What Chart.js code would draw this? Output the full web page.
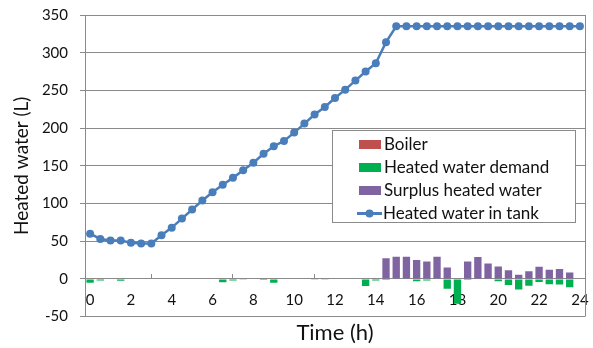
<!DOCTYPE html>
<html>
<head>
<meta charset="utf-8">
<script src="https://cdn.jsdelivr.net/npm/chart.js@4.4.1/dist/chart.umd.min.js"></script>
<style>
    body { margin: 0; background: #fff; }
    #wrap { position: relative; width: 593px; height: 348px; }
    #legendBox {
        position: absolute; left: 332px; top: 130px; width: 242px; height: 91px;
        border: 1px solid #8a8a8a; background: #fff;
        font-family: Lato, sans-serif; font-size: 17px; color: #111;
        box-sizing: content-box;
    }
    .item { position: absolute; left: 26px; height: 23px; line-height: 23px; white-space: nowrap; }
    .swatch { display: inline-block; width: 22px; height: 9px; vertical-align: middle; margin-right: 3px; position: relative; top: -1px; }
    .lineSwatch { display: inline-block; width: 25px; height: 9px; vertical-align: middle; margin-right: 1px; position: relative; top: -1px; }
</style>
</head>
<body>
<div id="wrap">
    <canvas id="waterChart" width="593" height="348"></canvas>
    <div id="legendBox"></div>
</div>
<script>
// time of day (h), one category every half hour
const times = [0, 0.5, 1, 1.5, 2, 2.5, 3, 3.5, 4, 4.5, 5, 5.5, 6, 6.5, 7, 7.5, 8, 8.5, 9, 9.5,
    10, 10.5, 11, 11.5, 12, 12.5, 13, 13.5, 14, 14.5, 15, 15.5, 16, 16.5, 17, 17.5, 18, 18.5, 19, 19.5,
    20, 20.5, 21, 21.5, 22, 22.5, 23, 23.5, 24];
const xTickLabels = [0, 2, 4, 6, 8, 10, 12, 14, 16, 18, 20, 22, 24];

const boiler = [0, 0, 0, 0, 0, 0, 0, 0, 0, 0, 0, 0, 0, 0, 0, 0, 0, 0, 0, 0,
    0, 0, 0, 0, 0, 0, 0, 0, 0, 0, 0, 0, 0, 0, 0, 0, 0, 0, 0, 0,
    0, 0, 0, 0, 0, 0, 0, 0, 0];
const demand = [-5, -2, 0, -2.5, 0, 0, 0, 0, 0, 0, 0, 0, 0, -4.5, -2, -1, 0, -1.5, -5, 0,
    0, 0, -1, -1, 0, 0, 0, -9.5, -2, -1.5, 0, 0, -3, -2, 0, -13, -33, -1.5, 0, 0,
    -3, -8, -14, -9, -4, -7, -7.5, -11, 0];
const surplus = [0, 0, 0, 0, 0, 0, 0, 0, 0, 0, 0, 0, 0, 0, 0, 0, 0, 0, 0, 0,
    0, 0, 0, 0, 0, 0, 0, 0, 0, 27.5, 29.5, 29.5, 25, 23, 29.5, 15, 0, 23, 29, 20.5,
    16.5, 11.5, 5.5, 10, 16, 12, 13, 8.5, 0];
const tank = [60, 53, 51, 51, 48, 47, 47, 58, 68, 80, 92, 104, 115, 125, 134, 144, 154, 166, 176, 183,
    194, 206, 218, 228, 240, 251, 263, 275, 286, 314, 335, 335, 335, 335, 335, 335, 335, 335, 335, 335,
    335, 335, 335, 335, 335, 335, 335, 335, 335];

const FONT = 'Lato, sans-serif';
const gridColor = '#8a8a8a';

// box line on the right side of the plot
const plotFrame = {
    id: 'plotFrame',
    afterDraw(chart) {
        const { ctx, chartArea } = chart;
        ctx.save();
        ctx.strokeStyle = gridColor;
        ctx.lineWidth = 1;
        ctx.beginPath();
        ctx.moveTo(Math.round(chartArea.right) + 0.5, chartArea.top);
        ctx.lineTo(Math.round(chartArea.right) + 0.5, chartArea.bottom);
        ctx.stroke();
        ctx.restore();
    }
};

// no automatic label padding, the plot box is set by layout.padding
function noPadding(s) {
    s.paddingTop = 0; s.paddingBottom = 0; s.paddingLeft = 0; s.paddingRight = 0;
}

const barOpts = { grouped: false, barPercentage: 0.72, categoryPercentage: 1, borderWidth: 0, order: 1 };

const ctx = document.getElementById('waterChart').getContext('2d');
const waterChart = new Chart(ctx, {
    type: 'bar',
    data: {
        labels: times,
        datasets: [
            { label: 'Boiler', data: boiler, backgroundColor: '#C0504D', ...barOpts },
            { label: 'Heated water demand', data: demand, backgroundColor: '#00B050', ...barOpts },
            { label: 'Surplus heated water', data: surplus, backgroundColor: '#8064A2', ...barOpts },
            {
                type: 'line', label: 'Heated water in tank', data: tank,
                borderColor: '#4A7EBB', backgroundColor: '#4A7EBB', borderWidth: 2.5,
                pointRadius: 4, pointBorderWidth: 0, tension: 0, order: 0
            }
        ]
    },
    options: {
        responsive: false,
        animation: false,
        layout: { autoPadding: false, padding: { top: 15, right: 8, left: 0, bottom: 0 } },
        plugins: {
            legend: { display: false },
            tooltip: { enabled: false },
            title: {
                display: true, position: 'bottom', fullSize: false, text: 'Time (h)',
                color: '#111', font: { family: FONT, size: 22, weight: 'normal' },
                padding: { top: 3, bottom: 2 }
            }
        },
        scales: {
            x: {
                position: { y: 0 },
                offset: true,
                afterFit: noPadding,
                grid: {
                    offset: true, drawOnChartArea: false, tickLength: -5,
                    color: c => (c.index > 0 && c.index % 2 === 0) ? gridColor : 'rgba(0,0,0,0)'
                },
                border: { display: true, color: gridColor },
                ticks: {
                    autoSkip: false, maxRotation: 0, padding: 17, color: '#111',
                    font: { family: FONT, size: 15 },
                    callback: (v, i) => xTickLabels.includes(times[i]) ? String(times[i]) : null
                }
            },
            y: {
                min: -50, max: 350,
                afterFit: s => { s.width = 85; noPadding(s); },
                grid: { color: gridColor, tickLength: 5 },
                border: { color: gridColor },
                ticks: { stepSize: 50, padding: 12, color: '#111', font: { family: FONT, size: 15 } },
                title: {
                    display: true, text: 'Heated water (L)', color: '#111',
                    font: { family: FONT, size: 19 }, padding: { top: 10, bottom: 2 }
                }
            }
        }
    },
    plugins: [plotFrame]
});

// legend drawn as html on top of the plot
const legendBox = document.getElementById('legendBox');
waterChart.data.datasets.forEach((ds, i) => {
    const item = document.createElement('div');
    item.className = 'item';
    item.style.top = (1 + i * 23) + 'px';
    if (ds.type === 'line') {
        item.style.left = '24px';
        item.innerHTML = `<svg class="lineSwatch" viewBox="0 0 25 9"><line x1="0" y1="4.5" x2="25" y2="4.5" stroke="${ds.borderColor}" stroke-width="3"/><circle cx="12.5" cy="4.5" r="4" fill="${ds.borderColor}"/></svg>${ds.label}`;
    } else {
        item.innerHTML = `<span class="swatch" style="background:${ds.backgroundColor}"></span>${ds.label}`;
    }
    legendBox.appendChild(item);
});
</script>
</body>
</html>
